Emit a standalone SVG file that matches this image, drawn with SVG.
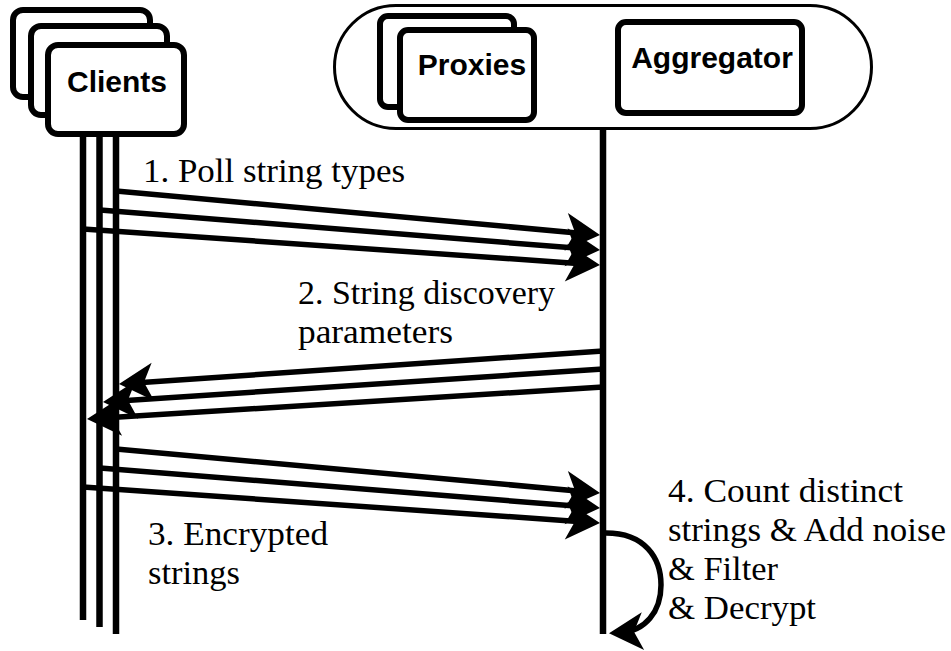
<svg xmlns="http://www.w3.org/2000/svg" width="951" height="651" viewBox="0 0 951 651">
<style>
.box{fill:#fff;stroke:#000;stroke-width:6}
.cloud{fill:#fff;stroke:#000;stroke-width:3}
.lbl{font-family:"Liberation Sans",Arial,sans-serif;font-weight:bold;font-size:30px;fill:#000}
.txt{font-family:"Liberation Serif","Times New Roman",serif;font-size:33px;fill:#000}
.life{stroke:#000;stroke-width:6.5;fill:none}
.msg{stroke:#000;stroke-width:5.5;fill:none;marker-end:url(#ah)}
</style>
<defs>
<marker id="ah" markerUnits="userSpaceOnUse" orient="auto" refX="-12" refY="0" markerWidth="1" markerHeight="1" overflow="visible">
<path d="M0,0 L-34,-19 L-25,0 L-34,19 Z" fill="#000"/>
</marker>
</defs>

<g id="connectors">
<line class="life" x1="83" y1="130" x2="83" y2="620"/>
<line class="life" x1="99.5" y1="130" x2="99.5" y2="627"/>
<line class="life" x1="116" y1="130" x2="116" y2="634"/>
<line class="life" x1="603" y1="128" x2="603" y2="634"/>
<line class="msg" x1="116" y1="191" x2="588.05" y2="233.91"/>
<line class="msg" x1="100" y1="210" x2="588.04" y2="249.04"/>
<line class="msg" x1="83" y1="229" x2="588.03" y2="264.17"/>
<line class="msg" x1="603" y1="351" x2="130.97" y2="383.18"/>
<line class="msg" x1="603" y1="369" x2="114.97" y2="401.21"/>
<line class="msg" x1="603" y1="387" x2="98.98" y2="418.26"/>
<line class="msg" x1="116" y1="449" x2="588.05" y2="491.91"/>
<line class="msg" x1="100" y1="468" x2="588.04" y2="507.04"/>
<line class="msg" x1="83" y1="487" x2="588.03" y2="522.17"/>
<path class="msg" d="M606,533 C645,533 661,558 661,585 C661,612 645,631 621,632.5"/>
</g>

<g id="clients">
<rect class="box" x="13" y="10" width="137" height="87" rx="10"/>
<rect class="box" x="31" y="26" width="136" height="89" rx="10"/>
<rect class="box" x="48" y="45" width="136" height="89" rx="10"/>
<text class="lbl" x="117" y="92" text-anchor="middle">Clients</text>
</g>

<g id="server">
<rect class="cloud" x="334.5" y="5.5" width="537" height="123" rx="61.5"/>
</g>

<g id="proxies">
<rect class="box" x="380" y="16" width="134" height="91" rx="8"/>
<rect class="box" x="400" y="30" width="134" height="90" rx="8"/>
<text class="lbl" x="472" y="75" text-anchor="middle">Proxies</text>
</g>

<g id="aggregator">
<rect class="box" x="618" y="22" width="184" height="91" rx="8"/>
<text class="lbl" x="712" y="68" text-anchor="middle">Aggregator</text>
</g>

<g id="label1">
<text class="txt" x="143" y="182" textLength="262" lengthAdjust="spacingAndGlyphs">1. Poll string types</text>
</g>
<g id="label2">
<text class="txt" x="298" y="304" textLength="257" lengthAdjust="spacingAndGlyphs">2. String discovery</text>
<text class="txt" x="298" y="343" textLength="155" lengthAdjust="spacingAndGlyphs">parameters</text>
</g>
<g id="label3">
<text class="txt" x="148" y="545" textLength="180" lengthAdjust="spacingAndGlyphs">3. Encrypted</text>
<text class="txt" x="148" y="584" textLength="92" lengthAdjust="spacingAndGlyphs">strings</text>
</g>
<g id="label4">
<text class="txt" x="668" y="502" textLength="235" lengthAdjust="spacingAndGlyphs">4. Count distinct</text>
<text class="txt" x="668" y="541" textLength="278" lengthAdjust="spacingAndGlyphs">strings &amp; Add noise</text>
<text class="txt" x="668" y="580" textLength="110" lengthAdjust="spacingAndGlyphs">&amp; Filter</text>
<text class="txt" x="668" y="619" textLength="148" lengthAdjust="spacingAndGlyphs">&amp; Decrypt</text>
</g>
</svg>
